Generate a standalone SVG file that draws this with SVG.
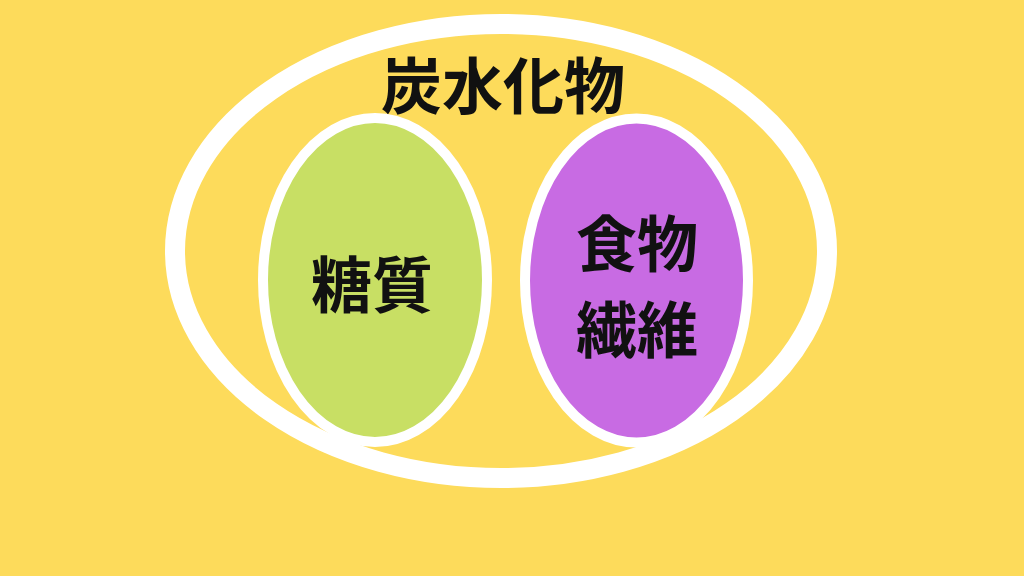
<svg xmlns="http://www.w3.org/2000/svg" width="1024" height="576" viewBox="0 0 1024 576">
<style>
.lbl{font-family:"Noto Sans CJK JP","Noto Sans CJK SC",sans-serif;font-weight:700;fill:#111;text-anchor:middle;dominant-baseline:central;font-size:61px}
.sub{stroke:#fff;stroke-width:10}
</style>
<rect width="1024" height="576" fill="#FDDB5B"/>
<g id="carbohydrate">
<ellipse cx="501" cy="251" rx="326" ry="227" fill="none" stroke="#fff" stroke-width="20"/>
<text class="lbl" x="503" y="82">炭水化物</text>
</g>
<g id="sugar">
<ellipse class="sub" cx="375" cy="280" rx="112" ry="162" fill="#C8DF64"/>
<text class="lbl" x="372" y="281">糖質</text>
</g>
<g id="fiber">
<ellipse class="sub" cx="636.5" cy="280.5" rx="111.5" ry="162" fill="#C86BE3"/>
<text class="lbl" x="637" y="240">食物</text>
<text class="lbl" x="637" y="326">繊維</text>
</g>
<g id="connectors"/>
</svg>
